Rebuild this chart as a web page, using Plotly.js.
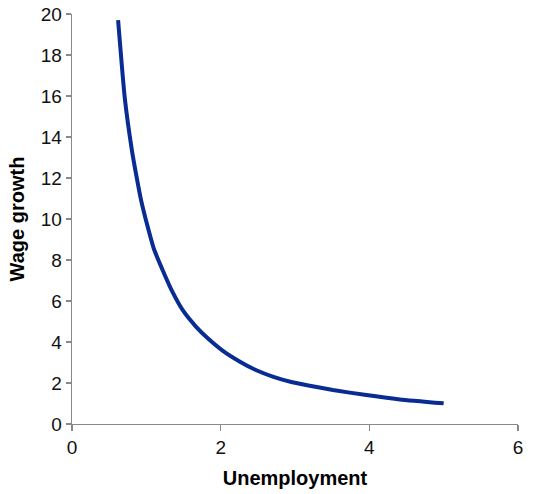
<!DOCTYPE html>
<html>
<head>
<meta charset="utf-8">
<script src="https://cdn.plot.ly/plotly-3.0.1.min.js"></script>
<style>
  html, body { margin: 0; padding: 0; background: #fff; }
  #chart { width: 537px; height: 494px; }
</style>
</head>
<body>
<div id="chart"></div>
<script>
// values
var unemployment = [0.62, 0.71, 0.806, 0.865, 0.93, 1.013, 1.10, 1.22, 1.34, 1.49, 1.67, 1.83, 2.03, 2.26, 2.48, 2.71, 2.95, 3.18, 3.51, 3.96, 4.41, 5.00];
var wageGrowth   = [19.7, 15.9, 13.35, 12.13, 10.91, 9.69, 8.56, 7.5, 6.53, 5.55, 4.74, 4.17, 3.57, 3.04, 2.62, 2.30, 2.05, 1.88, 1.66, 1.41, 1.20, 1.01];

var xTicks = [0, 2, 4, 6];
var yTicks = [0, 2, 4, 6, 8, 10, 12, 14, 16, 18, 20];

var trace = {
    x: unemployment,
    y: wageGrowth,
    type: 'scatter',
    mode: 'lines',
    line: { color: '#082b94', width: 4, shape: 'spline', smoothing: 0.5 },
    hoverinfo: 'skip'
};

var tickFont = { family: 'Liberation Sans, Arial, sans-serif', size: 19, color: '#111' };
var titleFont = { family: 'Liberation Sans, Arial, sans-serif', size: 20, color: '#000', weight: 'bold' };

var layout = {
    width: 537,
    height: 494,
    margin: { l: 72, r: 19, t: 14, b: 70 },
    paper_bgcolor: '#fff',
    plot_bgcolor: '#fff',
    showlegend: false,
    xaxis: {
        range: [0, 6],
        tickvals: xTicks,
        ticks: 'outside',
        ticklen: 6,
        tickcolor: '#898989',
        tickwidth: 1.3,
        showline: true,
        linecolor: '#898989',
        linewidth: 1.3,
        showgrid: false,
        zeroline: false,
        tickfont: tickFont,
        title: { text: 'Unemployment', font: titleFont, standoff: 14 },
        automargin: false
    },
    yaxis: {
        range: [0, 20],
        tickvals: yTicks,
        ticks: 'outside',
        ticklen: 5,
        tickcolor: '#898989',
        tickwidth: 1.3,
        showline: true,
        linecolor: '#898989',
        linewidth: 1.3,
        showgrid: false,
        zeroline: false,
        tickfont: tickFont,
        title: { text: 'Wage growth', font: titleFont, standoff: 10 },
        automargin: false
    }
};

Plotly.newPlot('chart', [trace], layout, { displayModeBar: false, staticPlot: true });
</script>
</body>
</html>
